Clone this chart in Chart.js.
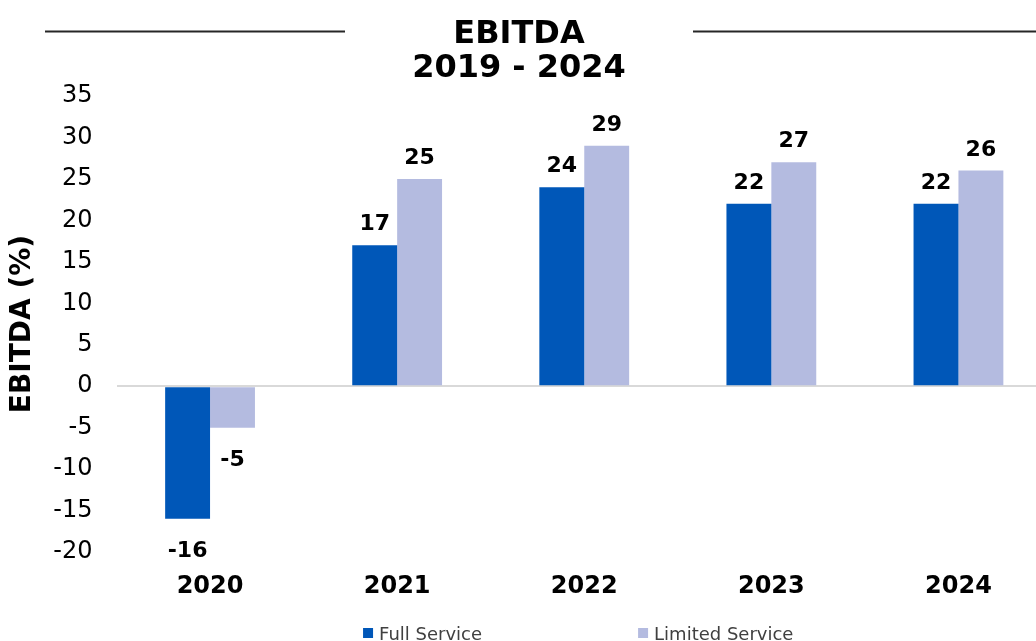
<!DOCTYPE html>
<html>
<head>
<meta charset="utf-8">
<title>EBITDA 2019 - 2024</title>
<script src="https://cdn.jsdelivr.net/npm/chart.js@4.4.1/dist/chart.umd.min.js"></script>
<style>
  html, body { margin: 0; padding: 0; background: #fff; overflow: hidden; }
  #wrap { width: 1052px; height: 641px; }
</style>
</head>
<body>
<div id="wrap"><canvas id="ebitda-chart" width="1052" height="641"></canvas></div>
<script>
const years = ['2020', '2021', '2022', '2023', '2024'];
const fullService = [-16, 17, 24, 22, 22];
const limitedService = [-5, 25, 29, 27, 26];
const titleLines = ['EBITDA', '2019 - 2024'];
const yAxisTitle = 'EBITDA (%)';

const FONT = '"DejaVu Sans", Verdana, sans-serif';
Chart.defaults.font.family = FONT;
Chart.defaults.color = '#000';

// numbers above / below each bar
const valueLabels = {
  id: 'valueLabels',
  afterDatasetsDraw(chart) {
    const ctx = chart.ctx;
    ctx.save();
    ctx.font = 'bold 22px ' + FONT;
    ctx.fillStyle = '#000';
    ctx.textAlign = 'center';
    ctx.textBaseline = 'alphabetic';
    chart.data.datasets.forEach((ds, i) => {
      chart.getDatasetMeta(i).data.forEach((bar, j) => {
        const v = ds.data[j];
        const y = v >= 0 ? bar.y - 15 : bar.y + 38;
        ctx.fillText(String(v), bar.x, y);
      });
    });
    ctx.restore();
  }
};

// two-line heading with rules either side, plus the legend strip at the bottom
const decorations = {
  id: 'decorations',
  afterDraw(chart) {
    const ctx = chart.ctx;
    const cx = 519;
    ctx.save();

    ctx.strokeStyle = '#262626';
    ctx.lineWidth = 2;
    ctx.beginPath();
    ctx.moveTo(45, 31.5);
    ctx.lineTo(345, 31.5);
    ctx.moveTo(693, 31.5);
    ctx.lineTo(chart.width, 31.5);
    ctx.stroke();

    ctx.fillStyle = '#000';
    ctx.font = 'bold 32px ' + FONT;
    ctx.textAlign = 'center';
    ctx.textBaseline = 'alphabetic';
    ctx.fillText(titleLines[0], cx, 43);
    ctx.fillText(titleLines[1], cx, 77);

    // legend
    ctx.font = '18px ' + FONT;
    ctx.textAlign = 'left';
    const box = 10, textGap = 6, itemGap = 156;
    const items = chart.data.datasets.map(ds => ({
      label: ds.label,
      color: ds.backgroundColor,
      w: box + textGap + ctx.measureText(ds.label).width
    }));
    const total = items.reduce((s, it) => s + it.w, 0) + itemGap * (items.length - 1);
    const area = chart.chartArea;
    let x = (area.left + area.right) / 2 - 6 - total / 2;
    items.forEach(it => {
      ctx.fillStyle = it.color;
      ctx.fillRect(x, 628, box, box);
      ctx.fillStyle = '#404040';
      ctx.fillText(it.label, x + box + textGap, 640);
      x += it.w + itemGap;
    });

    ctx.restore();
  }
};

new Chart(document.getElementById('ebitda-chart'), {
  type: 'bar',
  data: {
    labels: years,
    datasets: [
      {
        label: 'Full Service',
        data: fullService,
        backgroundColor: '#0057B8',
        categoryPercentage: 0.48,
        barPercentage: 1.0
      },
      {
        label: 'Limited Service',
        data: limitedService,
        backgroundColor: '#B4BBE0',
        categoryPercentage: 0.48,
        barPercentage: 1.0
      }
    ]
  },
  options: {
    responsive: false,
    animation: false,
    layout: { padding: { top: 96, left: 0, right: 0, bottom: 0 } },
    plugins: {
      legend: { display: false },
      title: { display: false },
      tooltip: { enabled: false }
    },
    scales: {
      x: {
        grid: { display: false, drawTicks: false },
        border: { display: false },
        ticks: {
          font: { size: 24, weight: 'bold' },
          color: '#000',
          padding: 20
        },
        afterFit(scale) { scale.height = 89; }
      },
      y: {
        min: -20,
        max: 35,
        grid: {
          drawTicks: false,
          lineWidth: 2,
          color: ctx => (ctx.tick && ctx.tick.value === 0 ? '#D9D9D9' : 'rgba(0,0,0,0)')
        },
        border: { display: false },
        ticks: {
          stepSize: 5,
          font: { size: 24 },
          color: '#000',
          padding: 24
        },
        title: {
          display: true,
          text: yAxisTitle,
          font: { size: 28, weight: 'bold' },
          color: '#000',
          padding: { top: 6, bottom: 0 }
        },
        afterFit(scale) { scale.width = 116.5; }
      }
    }
  },
  plugins: [valueLabels, decorations]
});
</script>
</body>
</html>
